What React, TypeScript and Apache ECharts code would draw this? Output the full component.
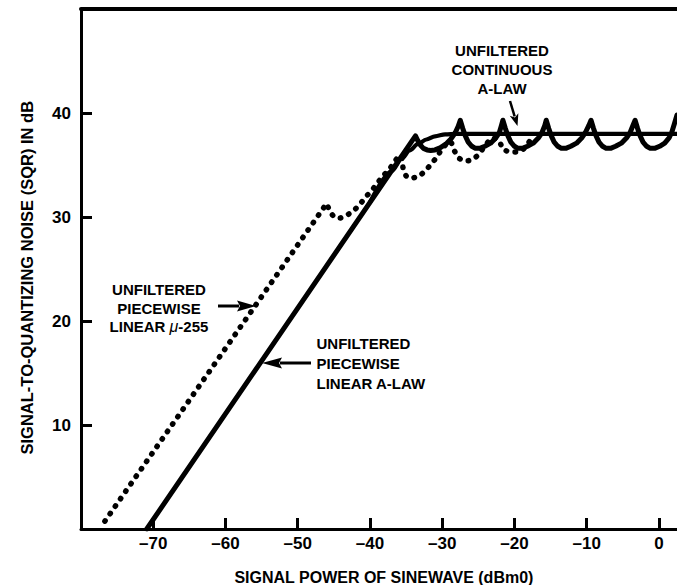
import React, { useEffect, useRef } from 'react';
import * as echarts from 'echarts';

// ---- data ----
const xTicks = [-70, -60, -50, -40, -30, -20, -10, 0];
const yTicks = [10, 20, 30, 40];

// Unfiltered piecewise linear mu-255 (dotted)
const mu255Points: number[][] = [
  [-76.7, 0.75], [-46.0, 31.3], [-45.5, 30.45], [-44.9, 29.95], [-44.1, 29.9],
  [-43.1, 30.2], [-42.1, 30.7], [-41.3, 31.3], [-40.5, 32.0], [-39.8, 32.5],
  [-38.9, 33.3], [-38.4, 33.8], [-37.3, 34.6], [-36.3, 35.6], [-35.65, 35.9],
  [-35.4, 34.6], [-35.0, 33.95], [-34.3, 33.7], [-33.1, 33.95], [-32.0, 34.7],
  [-30.8, 35.7], [-30.35, 36.2], [-29.6, 36.9], [-29.0, 37.3], [-28.7, 37.1],
  [-28.3, 36.35], [-27.8, 35.7], [-27.1, 35.4], [-26.4, 35.4], [-25.75, 35.55],
  [-25.2, 35.85], [-24.6, 36.35], [-23.9, 37.0], [-23.2, 37.6], [-22.4, 37.5],
  [-21.9, 37.0], [-21.6, 36.5], [-20.9, 36.3], [-20.2, 36.25], [-19.5, 36.25],
  [-18.8, 36.5], [-18.35, 36.8], [-17.8, 37.4],
];

// Unfiltered piecewise linear A-law (solid, sawtooth)
const aLawPiecewisePoints: number[][] = [
  [-70.9, 0], [-33.7, 37.8],
  [-33.35, 37.3], [-33.0, 36.9], [-32.6, 36.6], [-32.1, 36.45], [-31.6, 36.4], [-31.0, 36.45],
  [-30.3, 36.65], [-29.5, 37.0], [-28.8, 37.5], [-28.2, 38.1], [-27.8, 38.7], [-27.5, 39.3],
  [-27.15, 38.5], [-26.8, 37.8], [-26.4, 37.2], [-25.9, 36.8], [-25.4, 36.6], [-24.8, 36.6],
  [-24.1, 36.8], [-23.3, 37.1], [-22.6, 37.6], [-22.1, 38.1], [-21.8, 38.8], [-21.6, 39.3],
  [-21.25, 38.5], [-20.9, 37.8], [-20.5, 37.2], [-20.0, 36.8], [-19.5, 36.6], [-18.9, 36.6],
  [-18.2, 36.8], [-17.4, 37.1], [-16.7, 37.6], [-16.2, 38.1], [-15.8, 38.8], [-15.6, 39.3],
  [-15.25, 38.5], [-14.9, 37.8], [-14.5, 37.2], [-14.0, 36.8], [-13.5, 36.6], [-12.9, 36.6],
  [-12.2, 36.8], [-11.4, 37.1], [-10.7, 37.6], [-10.2, 38.1], [-9.7, 38.8], [-9.4, 39.3],
  [-9.05, 38.5], [-8.7, 37.8], [-8.3, 37.2], [-7.8, 36.8], [-7.3, 36.6], [-6.7, 36.6],
  [-6.0, 36.8], [-5.2, 37.1], [-4.5, 37.6], [-4.0, 38.1], [-3.6, 38.8], [-3.3, 39.3],
  [-2.95, 38.5], [-2.6, 37.8], [-2.2, 37.2], [-1.7, 36.8], [-1.2, 36.6], [-0.6, 36.6],
  [0.1, 36.8], [0.8, 37.1], [1.4, 37.6], [1.8, 38.2], [2.15, 39.0], [2.5, 39.8],
];

// Unfiltered continuous A-law (solid, smooth)
const aLawContinuousPoints: number[][] = [
  [-40.0, 31.4], [-37.0, 34.4], [-35.6, 35.6], [-34.5, 36.4], [-33.4, 37.0],
  [-32.2, 37.45], [-31.0, 37.75], [-29.6, 37.95], [-28.0, 38.0], [2.5, 38.0],
];

const FONT = '"Liberation Sans", Arial, Helvetica, sans-serif';
const INK = '#000';

function textEl(x: number, y: number, text: string, opts: any = {}) {
  return {
    type: 'text',
    x,
    y,
    rotation: opts.rotation || 0,
    style: {
      text,
      fill: INK,
      fontFamily: FONT,
      fontWeight: 'bold',
      fontSize: opts.fontSize || 15,
      lineHeight: opts.lineHeight || 19,
      align: opts.align || 'center',
      verticalAlign: opts.verticalAlign || 'top',
      textAlign: opts.align || 'center',
      textVerticalAlign: opts.verticalAlign || 'top',
      rich: opts.rich,
    },
  };
}

function arrow(x1: number, y1: number, x2: number, y2: number, headLen: number, headHalf: number, width: number) {
  const dx = x2 - x1;
  const dy = y2 - y1;
  const len = Math.sqrt(dx * dx + dy * dy);
  const ux = dx / len;
  const uy = dy / len;
  const bx = x2 - ux * headLen;
  const by = y2 - uy * headLen;
  const px = -uy;
  const py = ux;
  return [
    {
      type: 'line',
      shape: { x1, y1, x2: bx + ux * 2, y2: by + uy * 2 },
      style: { stroke: INK, lineWidth: width },
    },
    {
      type: 'polygon',
      shape: {
        points: [
          [x2, y2],
          [bx + px * headHalf, by + py * headHalf],
          [bx + ux * 3, by + uy * 3],
          [bx - px * headHalf, by - py * headHalf],
        ],
      },
      style: { fill: INK },
    },
  ];
}

export default function App() {
  const ref = useRef<HTMLDivElement>(null);

  useEffect(() => {
    if (!ref.current) return;
    const chart = echarts.init(ref.current, null, { renderer: 'svg' });

    const axisCommon = {
      axisLine: { show: true, onZero: false, lineStyle: { color: INK, width: 3 } },
      splitLine: { show: false },
    };

    const option: any = {
      animation: false,
      backgroundColor: '#fff',
      grid: { left: 81, right: 0, top: 9, bottom: 56, containLabel: false },
      xAxis: [
        {
          type: 'value',
          min: -80,
          max: 2.5,
          position: 'bottom',
          ...axisCommon,
          axisTick: {
            show: true,
            inside: true,
            length: 11,
            customValues: xTicks,
            lineStyle: { color: INK, width: 3 },
          },
          axisLabel: {
            show: true,
            customValues: xTicks,
            margin: 6,
            color: INK,
            fontFamily: FONT,
            fontWeight: 'bold',
            fontSize: 17,
            formatter: (v: number) => (v < 0 ? '\u2013' + Math.abs(v) : String(v)),
          },
        },
        {
          type: 'value',
          min: -80,
          max: 2.5,
          position: 'top',
          axisLine: { show: true, onZero: false, lineStyle: { color: INK, width: 4 } },
          axisTick: { show: false },
          axisLabel: { show: false },
          splitLine: { show: false },
        },
      ],
      yAxis: {
        type: 'value',
        min: 0,
        max: 50,
        ...axisCommon,
        axisTick: {
          show: true,
          inside: true,
          length: 11,
          customValues: yTicks,
          lineStyle: { color: INK, width: 3 },
        },
        axisLabel: {
          show: true,
          customValues: yTicks,
          margin: 10,
          color: INK,
          fontFamily: FONT,
          fontWeight: 'bold',
          fontSize: 17,
        },
      },
      series: [
        {
          name: 'UNFILTERED PIECEWISE LINEAR \u03bc-255',
          type: 'line',
          data: mu255Points,
          showSymbol: false,
          symbol: 'none',
          lineStyle: { color: INK, width: 5.5, type: [0.5, 8.6], cap: 'round', join: 'round' },
          z: 2,
        },
        {
          name: 'UNFILTERED CONTINUOUS A-LAW',
          type: 'line',
          data: aLawContinuousPoints,
          showSymbol: false,
          symbol: 'none',
          smooth: 0.3,
          smoothMonotone: 'x',
          lineStyle: { color: INK, width: 4.2, cap: 'round', join: 'round' },
          z: 3,
        },
        {
          name: 'UNFILTERED PIECEWISE LINEAR A-LAW',
          type: 'line',
          data: aLawPiecewisePoints,
          showSymbol: false,
          symbol: 'none',
          lineStyle: { color: INK, width: 5, cap: 'round', join: 'round' },
          z: 4,
        },
      ],
      graphic: [
        textEl(502, 40.5, 'UNFILTERED\nCONTINUOUS\nA-LAW', { lineHeight: 19 }),
        ...arrow(510, 101, 517.5, 126, 12, 4.5, 2.5),
        textEl(159, 280, 'UNFILTERED\nPIECEWISE\nLINEAR {mu|\u03bc}-255', {
          lineHeight: 18.7,
          rich: {
            mu: {
              fontStyle: 'italic',
              fontWeight: 'normal',
              fontFamily: FONT,
              fontSize: 16,
              fill: INK,
              lineHeight: 18.7,
            },
          },
        }),
        ...arrow(218, 306, 256, 306, 19, 5.5, 3),
        textEl(316.5, 333.6, 'UNFILTERED\nPIECEWISE\nLINEAR A-LAW', { lineHeight: 19.9, align: 'left' }),
        ...arrow(311, 363, 262, 363, 20, 5.5, 3),
        textEl(26.5, 277.7, 'SIGNAL-TO-QUANTIZING NOISE (SQR) IN dB', {
          fontSize: 16.5,
          rotation: Math.PI / 2,
          verticalAlign: 'middle',
        }),
        textEl(383.9, 577, 'SIGNAL POWER OF SINEWAVE (dBm0)', {
          fontSize: 16,
          verticalAlign: 'middle',
        }),
      ],
    };

    chart.setOption(option);
    return () => chart.dispose();
  }, []);

  return (
    <div
      ref={ref}
      style={{ position: 'absolute', left: 0, top: 0, width: 677, height: 585, background: '#fff' }}
    />
  );
}
